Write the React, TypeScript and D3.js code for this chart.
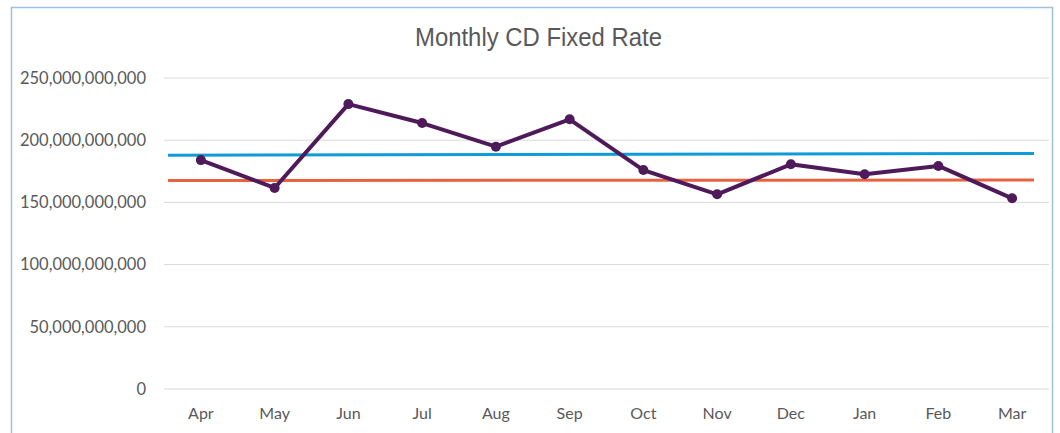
import React from "react";
import * as d3 from "d3";

const width = 1060;
const height = 433;
const margin = { top: 78, right: 11, bottom: 44, left: 164 };

const title = "Monthly CD Fixed Rate";
const months = ["Apr", "May", "Jun", "Jul", "Aug", "Sep", "Oct", "Nov", "Dec", "Jan", "Feb", "Mar"];
const fixedRate = [184e9, 161.6e9, 229e9, 213.8e9, 194.8e9, 216.8e9, 176e9, 156.5e9, 180.6e9, 172.6e9, 179.3e9, 153.3e9];
// flat reference lines, value at the left and right end
const blueLine = [188e9, 189.4e9];
const redLine = [167.6e9, 168e9];
const yTicks = [0, 50e9, 100e9, 150e9, 200e9, 250e9];

const font = "Lato, 'Noto Sans', sans-serif";

export default function App() {
  const innerW = width - margin.left - margin.right;
  const y = d3.scaleLinear().domain([0, 250e9]).range([height - margin.bottom, margin.top]);
  const x = d3.scaleBand().domain(months).range([margin.left, margin.left + innerW]);
  const cx = (m: string) => (x(m) as number) + x.bandwidth() / 2;
  const refX = d3.scaleLinear().domain([0, 1]).range([margin.left + 4, margin.left + innerW - 15]);

  const line = d3
    .line<number>()
    .x((_, i) => cx(months[i]))
    .y((d) => y(d));
  const refLine = d3
    .line<number>()
    .x((_, i) => refX(i))
    .y((d) => y(d));
  const fmt = d3.format(",");

  return (
    <svg width={width} height={height} style={{ position: "absolute", left: 0, top: 0 }}>
      <rect x={0} y={0} width={width} height={height} fill="#fff" />
      <rect x={11.5} y={7.5} width={1041} height={440} fill="none" stroke="#9fbfdf" strokeWidth={1.5} />
      <text
        x={538.5}
        y={46}
        textAnchor="middle"
        fontFamily="'Liberation Sans Narrow', 'Arial Narrow', 'Liberation Sans', sans-serif"
        fontSize={26}
        textLength={247}
        lengthAdjust="spacingAndGlyphs"
        fill="#595959"
      >
        {title}
      </text>
      {yTicks.map((t) => (
        <g key={t}>
          <line x1={margin.left} x2={margin.left + innerW} y1={y(t)} y2={y(t)} stroke="#d9d9d9" strokeWidth={1} />
          <text x={146} y={y(t)} dy="0.35em" textAnchor="end" fontFamily={font} fontSize={16.5} fill="#595959">
            {fmt(t)}
          </text>
        </g>
      ))}
      {months.map((m) => (
        <text key={m} x={cx(m)} y={419} textAnchor="middle" fontFamily={font} fontSize={16} fill="#595959">
          {m}
        </text>
      ))}
      <path d={refLine(blueLine) || ""} fill="none" stroke="#0f9ad8" strokeWidth={3} />
      <path d={refLine(redLine) || ""} fill="none" stroke="#e8623f" strokeWidth={3} />
      <path d={line(fixedRate) || ""} fill="none" stroke="#4e1a5a" strokeWidth={4} strokeLinejoin="round" />
      {fixedRate.map((v, i) => (
        <circle key={i} cx={cx(months[i])} cy={y(v)} r={5} fill="#4e1a5a" />
      ))}
    </svg>
  );
}
